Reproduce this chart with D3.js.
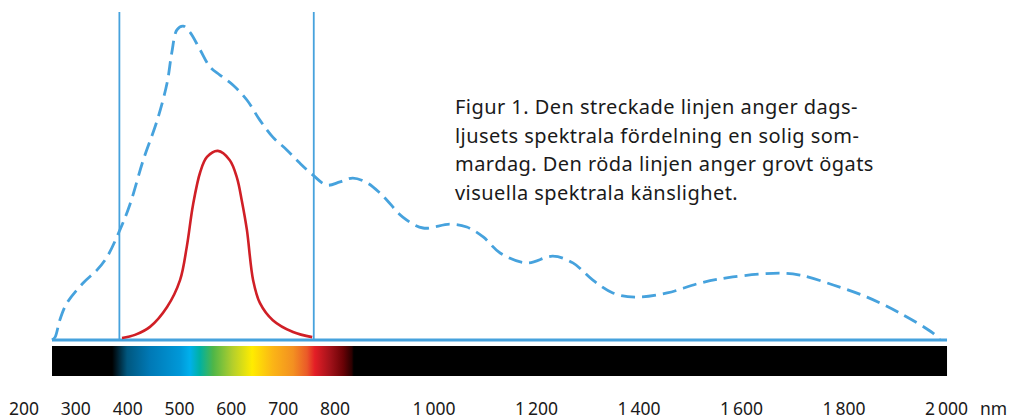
<!DOCTYPE html>
<html>
<head>
<meta charset="utf-8">
<script src="https://cdn.jsdelivr.net/npm/d3@7"></script>
<style>
  html, body { margin: 0; padding: 0; background: #fff; }
  svg { display: block; }
  text { font-family: "Noto Sans", "Open Sans", sans-serif; fill: #1a1a1a; }
</style>
</head>
<body>
<svg id="chart" width="1016" height="419"></svg>
<script>
// ---- data ----
const tickValues = [200, 300, 400, 500, 600, 700, 800, 1000, 1200, 1400, 1600, 1800, 2000];
const unitLabel = "nm";

// daylight spectral distribution (wavelength nm, relative value)
const daylightNm  = [255, 261, 270, 284, 315, 342, 361, 386, 405, 431, 458, 477, 486, 496, 508, 521, 541, 560, 579, 604, 631, 656, 681, 708, 733, 758, 785, 811, 837, 866, 892, 906, 938, 979, 1032, 1065, 1097, 1130, 1182, 1233, 1272, 1311, 1350, 1393, 1456, 1520, 1584, 1676, 1715, 1780, 1846, 1910, 1974, 1988];
const daylightVal = [0, 0.9, 6.2, 11.6, 17.8, 21.9, 25.9, 34.4, 42.2, 56.2, 68.7, 80.3, 89.7, 96.9, 98.1, 96.2, 90.6, 85.3, 82.8, 79.7, 75, 68.7, 63.4, 59.4, 55.3, 51.6, 48.4, 49.4, 50.6, 49.1, 45.9, 43.7, 38.4, 35, 36.2, 35.3, 32.2, 27.2, 24.1, 26.2, 24.1, 18.7, 14.7, 13.4, 14.7, 17.8, 19.7, 20.9, 20.3, 17.2, 13.4, 8.4, 2.2, 0];

// eye sensitivity (wavelength nm, relative value)
const eyeNm  = [390, 415, 444, 477, 502, 515, 527, 541, 554, 575, 598, 612, 621, 631, 643, 656, 681, 720, 757];
const eyeVal = [0.6, 1.6, 4.1, 10.3, 18.7, 29.1, 42.2, 52.5, 57.2, 59.1, 56.2, 50.6, 43.7, 34.4, 18.7, 11.6, 6.2, 2.5, 0.9];

// visible range bounds
const visibleBounds = [385, 760];
// axis / spectrum extent
const axisExtent = [255, 2002];

// spectrum colour stops (nm, colour)
const spectrumNm  = [255, 371, 400, 444, 502, 521, 540, 566, 604, 641, 681, 720, 747, 762, 791, 817, 835, 839, 2002];
const spectrumCol = ["#000000", "#000000", "#00577f", "#0079b6", "#0098d8", "#00b0ec", "#00b1a3", "#4fb648", "#b5cf2b", "#ffec00", "#fbb516", "#f39021", "#ea5a28", "#e41e26", "#a3121a", "#6b0206", "#2a0000", "#000000", "#000000"];

const captionLines = [
  "Figur 1. Den streckade linjen anger dags-",
  "ljusets spektrala fördelning en solig som-",
  "mardag. Den röda linjen anger grovt ögats",
  "visuella spektrala känslighet."
];

// ---- drawing ----
const svg = d3.select("#chart");
const blue = "#46a2dd";
const red = "#d01f26";

const x = d3.scaleLinear()
  .domain([200, 800, 1000, 2000])
  .range([23.5, 334.5, 433.5, 946]);
const y = d3.scaleLinear().domain([0, 100]).range([340, 20]);

// spectrum bar gradient
const defs = svg.append("defs");
const grad = defs.append("linearGradient")
  .attr("id", "spec")
  .attr("gradientUnits", "userSpaceOnUse")
  .attr("x1", x(axisExtent[0])).attr("x2", x(axisExtent[1]))
  .attr("y1", 0).attr("y2", 0);
const span = x(axisExtent[1]) - x(axisExtent[0]);
grad.selectAll("stop").data(spectrumNm).join("stop")
  .attr("offset", d => (x(d) - x(axisExtent[0])) / span)
  .attr("stop-color", (d, i) => spectrumCol[i]);

svg.append("rect")
  .attr("x", x(axisExtent[0]))
  .attr("y", 346)
  .attr("width", span)
  .attr("height", 30)
  .attr("fill", "url(#spec)");

// vertical bounds
svg.selectAll("line.bound").data(visibleBounds).join("line")
  .attr("class", "bound")
  .attr("x1", d => x(d)).attr("x2", d => x(d))
  .attr("y1", 12).attr("y2", y(0))
  .attr("stroke", blue).attr("stroke-width", 1.8);

// baseline
svg.append("line")
  .attr("x1", x(axisExtent[0])).attr("x2", x(axisExtent[1]))
  .attr("y1", y(0)).attr("y2", y(0))
  .attr("stroke", blue).attr("stroke-width", 3);

const line = d3.line()
  .x(d => x(d[0])).y(d => y(d[1]))
  .curve(d3.curveCatmullRom.alpha(0.5));

// daylight dashed curve
svg.append("path")
  .datum(daylightNm.map((n, i) => [n, daylightVal[i]]))
  .attr("d", line)
  .attr("fill", "none")
  .attr("stroke", blue)
  .attr("stroke-width", 2.8)
  .attr("stroke-dasharray", "14 7");

// eye sensitivity curve
svg.append("path")
  .datum(eyeNm.map((n, i) => [n, eyeVal[i]]))
  .attr("d", line)
  .attr("fill", "none")
  .attr("stroke", red)
  .attr("stroke-width", 2.6);

// axis labels
const fmt = d3.formatLocale({ decimal: ",", thousands: "\u2009", grouping: [3], currency: ["", ""] }).format(",");
const axis = d3.axisBottom(x).tickValues(tickValues).tickFormat(fmt).tickSize(0).tickPadding(0);
const gAxis = svg.append("g").attr("transform", "translate(0,402)").call(axis);
gAxis.select(".domain").remove();
gAxis.selectAll("text")
  .attr("dy", null)
  .attr("y", 13)
  .style("font-family", "'Noto Sans', sans-serif")
  .style("font-size", "17.5px")
  .attr("fill", "#1a1a1a");

svg.append("text")
  .attr("x", x(2000) + 34)
  .attr("y", 415)
  .style("font-size", "17.5px")
  .text(unitLabel);

// caption
svg.append("g").selectAll("text").data(captionLines).join("text")
  .attr("x", 455)
  .attr("y", (d, i) => 114 + i * 28.5)
  .style("font-size", "20px")
  .style("letter-spacing", "0.45px")
  .text(d => d);
</script>
</body>
</html>
